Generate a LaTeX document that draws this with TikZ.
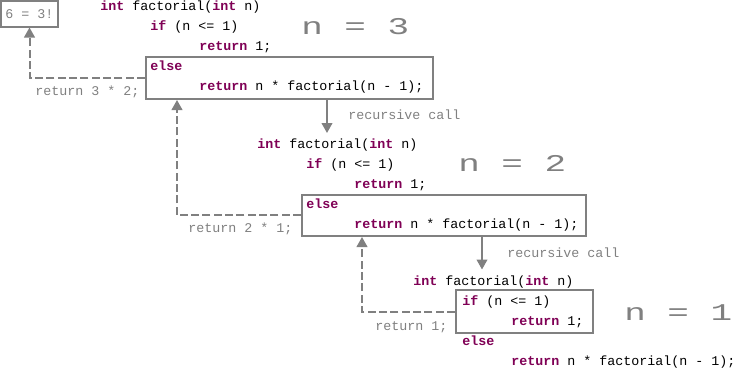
\documentclass[tikz,border=0pt]{standalone}
\usepackage{fontspec}
\usepackage{graphicx}
\setmainfont{Liberation Mono}
\setmonofont{Liberation Mono}
\usetikzlibrary{arrows.meta,fit}
\definecolor{kw}{HTML}{7F0055}
\definecolor{ln}{HTML}{808080}
\newcommand{\kw}[1]{\textbf{\color{kw}#1}}
\begin{document}
\begin{tikzpicture}[x=0.75pt,y=-0.75pt,
  code/.style={anchor=base west, inner sep=0pt, font=\fontsize{10}{12}\selectfont},
  lbl/.style={code, text=ln},
  big/.style={anchor=base west, inner sep=0pt, text=ln, font=\fontsize{18}{20}\selectfont},
  box/.style={draw=ln, line width=1.5pt, inner sep=0pt},
  back/.style={draw=ln, line width=1.5pt, dash pattern=on 6pt off 2.5pt, -{Triangle[width=8pt,length=7.5pt]}},
  call/.style={draw=ln, line width=1.5pt, -{Triangle[width=8pt,length=7.5pt]}}]
\useasboundingbox (0,0) rectangle (744,368);

% result box
\node[box, fit={(1,1) (58,26.5)}] (res) {};
\node[lbl, anchor=center] (rest) at (res.center) {6 = 3!};

% block 1
\node[box, fit={(146,57) (433,99)}] (b1) {};
\node[code] (s1) at (100,10.5) {\kw{int} factorial(\kw{int} n)};
\node[code] (i1) at (150,30.5) {\kw{if} (n <= 1)};
\node[code] (r1) at (199,50.5) {\kw{return} 1;};
\node[code] (e1) at (150,70.5) {\kw{else}};
\node[code] (c1) at (199,90.5) {\kw{return} n * factorial(n - 1);};
\node[big] (n3) at (301,34.3) {\scalebox{1.5}[1]{n = 3}};

% block 2
\node[box, fit={(302,194.5) (586,236)}] (b2) {};
\node[code] (s2) at (257,148) {\kw{int} factorial(\kw{int} n)};
\node[code] (i2) at (306,168) {\kw{if} (n <= 1)};
\node[code] (r2) at (354,188) {\kw{return} 1;};
\node[code] (e2) at (306,208) {\kw{else}};
\node[code] (c2) at (354,228) {\kw{return} n * factorial(n - 1);};
\node[big] (n2) at (458,171.7) {\scalebox{1.5}[1]{n = 2}};

% block 3
\node[box, fit={(456,290) (593,333)}] (b3) {};
\node[code] (s3) at (413,285) {\kw{int} factorial(\kw{int} n)};
\node[code] (i3) at (462,305) {\kw{if} (n <= 1)};
\node[code] (r3) at (511,325) {\kw{return} 1;};
\node[code] (e3) at (462,345) {\kw{else}};
\node[code] (c3) at (511,365) {\kw{return} n * factorial(n - 1);};
\node[big] (n1) at (624,320) {\scalebox{1.5}[1]{n = 1}};

% recursive calls
\coordinate (t1) at (327,133);
\coordinate (t2) at (482,269.5);
\draw[call] (b1.south -| t1) -- (t1);
\draw[call] (b2.south -| t2) -- (t2);
\node[lbl] (rc1) at (348,119) {recursive call};
\node[lbl] (rc2) at (507,257.7) {recursive call};

% returns
\coordinate (u2) at (177,0);
\coordinate (u3) at (362,0);
\draw[back] (b1.west) -| (res.south);
\draw[back] (b2.west) -| (b1.south -| u2);
\draw[back] (b3.west) -| (b2.south -| u3);
\node[lbl] (rt1) at (35,95) {return 3 * 2;};
\node[lbl] (rt2) at (188,232.5) {return 2 * 1;};
\node[lbl] (rt3) at (375,330) {return 1;};
\end{tikzpicture}
\end{document}
